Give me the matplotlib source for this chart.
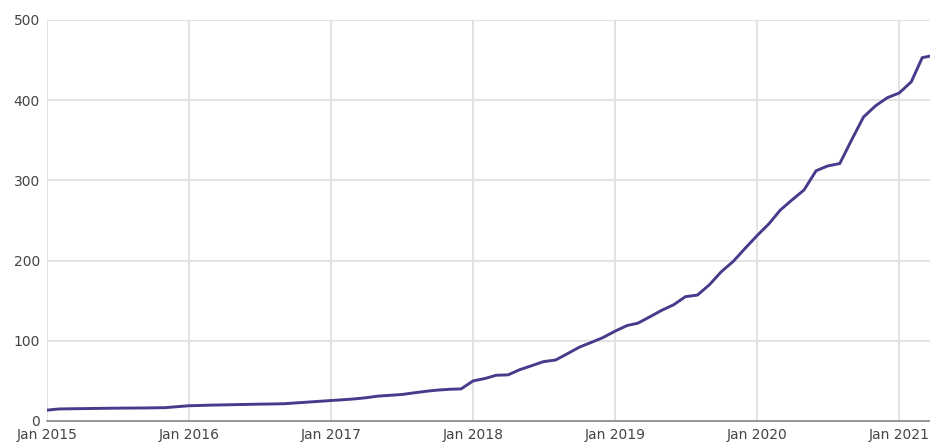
import pandas as pd
import matplotlib.pyplot as plt
import matplotlib.dates as mdates

# monthly values, Jan 2015 .. Apr 2021
months = pd.date_range("2015-01-01", "2021-04-01", freq="MS")
values = [
    13.5, 15, 15.2, 15.4, 15.6, 15.8, 16, 16.1, 16.2, 16.4, 16.6, 17.8,
    19, 19.4, 19.8, 20.1, 20.4, 20.7, 21, 21.2, 21.5, 22.5, 23.5, 24.5,
    25.5, 26.5, 27.5, 29, 31, 32, 33, 35, 37, 38.5, 39.5, 40,
    50, 53, 57, 57.5, 64, 69, 74, 76, 84, 92, 98, 104,
    112, 119, 122, 130, 138, 145, 155, 157, 170, 186, 199, 215,
    231, 246, 263, 276, 288, 312, 318, 321, 351, 379, 393, 403,
    409, 423, 453, 456,
]
y_ticks = [0, 100, 200, 300, 400, 500]
x_ticks = pd.date_range("2015-01-01", "2021-01-01", freq="YS")

fig = plt.figure(figsize=(9.3, 4.43), dpi=100)
ax = fig.add_axes([0.0505, 0.0497, 0.9495, 0.9052])

ax.plot(months, values, color="#4a3a8c", linewidth=2.1, solid_joinstyle="round")

ax.set_ylim(0, 500)
ax.set_xlim(pd.Timestamp("2015-01-01"), pd.Timestamp("2021-03-21"))
ax.set_yticks(y_ticks)
ax.set_xticks(x_ticks)
ax.xaxis.set_major_formatter(mdates.DateFormatter("Jan %Y"))

ax.grid(True, color="#e0e0e0", linewidth=1.3)
ax.set_axisbelow(True)
for side in ["top", "right", "left"]:
    ax.spines[side].set_visible(False)
ax.spines["bottom"].set_color("#888888")
ax.spines["bottom"].set_linewidth(1.2)
ax.tick_params(length=0, labelsize=10, colors="#444444", pad=5)
ax.tick_params(axis="y", pad=5)

fig.savefig("out.png", dpi=100)
